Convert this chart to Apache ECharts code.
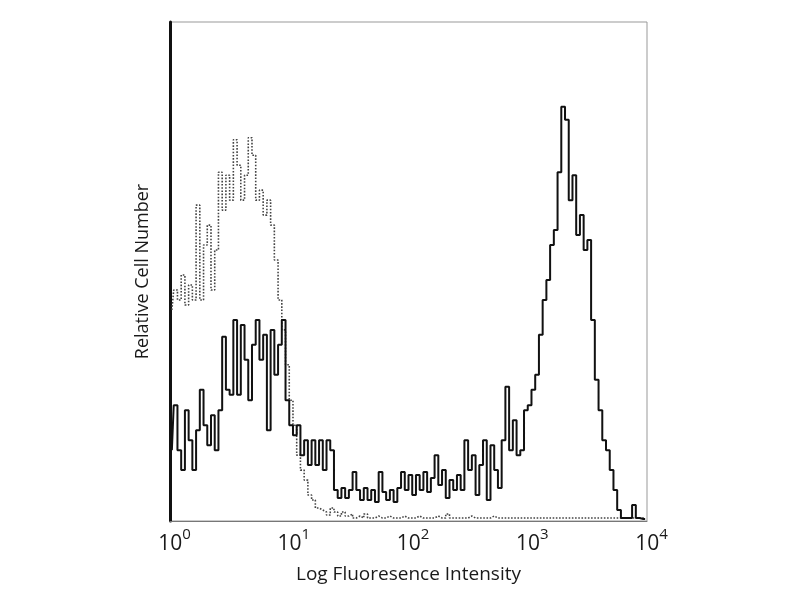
<!DOCTYPE html>
<html>
<head>
<meta charset="utf-8">
<script src="https://cdn.jsdelivr.net/npm/echarts@6/dist/echarts.min.js"></script>
<style>
html, body { margin: 0; background: #fff; }
#chart { width: 800px; height: 600px; }
</style>
</head>
<body>
<div id="chart"></div>
<script>
// histogram channels: 128 channels over 4 log decades
var DECADES = 4;
var CHANNELS = 128;

// stained sample (solid black), relative counts per channel
var stained = [
    14.2, 23.2, 14.2, 10.2, 22.2, 16.2, 10.2, 18.2, 26.3, 19.2,
    15.2, 21.2, 14.2, 22.2, 36.9, 26.3, 25.3, 40.3, 25.3, 39.3,
    32.3, 24.2, 35.3, 40.3, 32.3, 37.3, 18.2, 38.3, 29.3, 35.3,
    40.3, 24.2, 19.2, 17.2, 19.2, 13.2, 16.2, 11.2, 16.2, 11.2,
    16.2, 10.2, 16.2, 14.2, 6.2, 4.6, 6.6, 4.6, 6.2, 9.8,
    6.2, 4.2, 6.6, 4.2, 6.2, 3.8, 9.8, 5.8, 4.2, 6.2,
    3.8, 6.6, 9.8, 6.2, 9.2, 5.2, 9.2, 6.2, 9.8, 5.8,
    8.6, 13.2, 7.2, 10.2, 4.6, 8.2, 6.2, 9.2, 6.2, 16.2,
    10.2, 13.2, 5.2, 11.2, 16.2, 4.2, 15.2, 10.2, 6.6, 16.2,
    26.9, 14.2, 20.2, 13.2, 14.2, 22.2, 23.2, 26.3, 29.3, 37.3,
    44.3, 48.3, 55.3, 58.3, 69.9, 83.0, 80.4, 64.3, 69.3, 57.3,
    61.3, 54.3, 56.3, 40.3, 28.3, 22.2, 16.2, 14.2, 10.2, 6.2,
    2.2, 0.6, 0.6, 0.6, 3.2, 0.6, 0.4, 0.4
];

// isotype control (dotted gray)
var control = [
    42.3, 46.3, 44.3, 49.3, 43.3, 47.3, 44.3, 63.3, 44.3, 55.3,
    59.3, 46.3, 54.3, 69.9, 62.3, 69.3, 64.3, 76.4, 71.3, 64.3,
    69.3, 76.8, 73.3, 64.3, 66.3, 61.3, 64.3, 59.3, 52.3, 44.3,
    38.3, 31.3, 24.2, 19.2, 13.2, 10.2, 8.2, 5.2, 4.2, 2.6,
    2.2, 1.8, 1.2, 2.6, 1.8, 1.0, 1.8, 1.0, 1.4, 0.6,
    1.0, 0.6, 1.4, 0.6, 0.6, 1.0, 0.6, 0.6, 1.0, 0.6,
    0.6, 0.6, 1.0, 0.6, 0.6, 0.6, 1.0, 0.6, 0.6, 0.6,
    0.6, 1.0, 0.6, 0.6, 1.4, 0.6, 0.6, 0.6, 0.6, 0.6,
    1.0, 0.6, 0.6, 0.6, 0.6, 0.6, 1.0, 0.6, 0.6, 0.6,
    0.6, 0.6, 0.6, 0.6, 0.6, 0.6, 0.6, 0.6, 0.6, 0.6,
    0.6, 0.6, 0.6, 0.6, 0.6, 0.6, 0.6, 0.6, 0.6, 0.6,
    0.6, 0.6, 0.6, 0.6, 0.6, 0.6, 0.6, 0.6, 0.6, 0.6,
    0.6, 0.6, 0.6, 0.6, 0.6, 0.6, 0.6, 0.6
];

var xName = 'Log Fluoresence Intensity';
var yName = 'Relative Cell Number';

// channel index -> fluorescence value (channel centre)
function toPoints(arr) {
    var out = [];
    for (var i = 0; i < arr.length; i++) {
        out.push([Math.pow(10, (i + 0.5) * DECADES / CHANNELS), arr[i]]);
    }
    return out;
}

var myChart = echarts.init(document.getElementById('chart'));

myChart.setOption({
    animation: false,
    backgroundColor: '#fff',
    grid: {
        left: 170,
        right: 153,
        top: 22,
        bottom: 79,
        show: true,
        borderColor: '#999',
        borderWidth: 1
    },
    xAxis: {
        type: 'log',
        logBase: 10,
        min: 1,
        max: 10000,
        axisLine: {show: true, onZero: false, lineStyle: {color: '#777', width: 1}},
        axisTick: {show: false},
        splitLine: {show: false},
        minorTick: {show: false},
        axisLabel: {
            margin: 6,
            showMinLabel: true,
            showMaxLabel: true,
            formatter: function (v) {
                var e = Math.round(Math.log(v) / Math.LN10);
                return '{p|}{b|10}{s|' + e + '}';
            },
            rich: {
                p: {width: 9},
                b: {fontSize: 21, lineHeight: 28, verticalAlign: 'bottom', color: '#1a1a1a', fontFamily: 'Open Sans'},
                s: {fontSize: 15, lineHeight: 15, verticalAlign: 'top', color: '#1a1a1a', fontFamily: 'Open Sans'}
            }
        },
        name: xName,
        nameLocation: 'middle',
        nameGap: 44,
        nameTextStyle: {fontSize: 19, color: '#1a1a1a', fontFamily: 'Open Sans'}
    },
    yAxis: {
        type: 'value',
        min: 0,
        max: 100,
        axisLine: {show: true, lineStyle: {color: '#111', width: 3}},
        axisTick: {show: false},
        axisLabel: {show: false},
        splitLine: {show: false},
        name: yName,
        nameLocation: 'middle',
        nameGap: 18,
        nameTextStyle: {fontSize: 18, color: '#1a1a1a', fontFamily: 'Open Sans'}
    },
    series: [
        {
            type: 'line',
            step: 'middle',
            symbol: 'none',
            data: toPoints(control),
            lineStyle: {color: '#444', width: 1.6, type: 'dotted'},
            z: 2
        },
        {
            type: 'line',
            step: 'middle',
            symbol: 'none',
            data: toPoints(stained),
            lineStyle: {color: '#111', width: 2},
            z: 3
        }
    ]
});
</script>
</body>
</html>
